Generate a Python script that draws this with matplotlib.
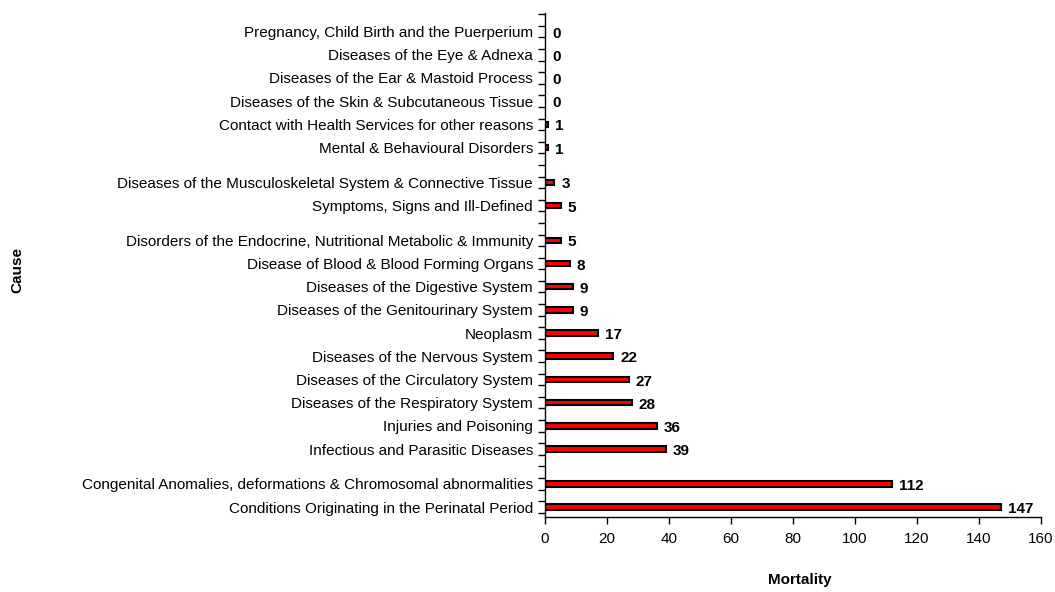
import matplotlib
matplotlib.use("Agg")
import matplotlib.pyplot as plt
import numpy as np
from matplotlib.ticker import FixedLocator, MultipleLocator

plt.rcParams['font.family'] = ['Liberation Sans', 'DejaVu Sans']

# Categories, bottom to top
categories = [
    "Conditions Originating in the Perinatal Period",
    "Congenital Anomalies, deformations & Chromosomal abnormalities",
    "Infectious and Parasitic Diseases",
    "Injuries and Poisoning",
    "Diseases of the Respiratory System",
    "Diseases of the Circulatory System",
    "Diseases of the Nervous System",
    "Neoplasm",
    "Diseases of the Genitourinary System",
    "Diseases of the Digestive System",
    "Disease of Blood & Blood Forming Organs",
    "Disorders of the Endocrine, Nutritional Metabolic & Immunity",
    "Symptoms, Signs and Ill-Defined",
    "Diseases of the Musculoskeletal System & Connective Tissue",
    "Mental & Behavioural Disorders",
    "Contact with Health Services for other reasons",
    "Diseases of the Skin & Subcutaneous Tissue",
    "Diseases of the Ear & Mastoid Process",
    "Diseases of the Eye & Adnexa",
    "Pregnancy, Child Birth and the Puerperium",
]
mortality = [147, 112, 39, 36, 28, 27, 22, 17, 9, 9, 8, 5, 5, 3, 1, 1, 0, 0, 0, 0]

# categories preceded (from below) by an extra blank slot in the layout
extra_gap_before = {
    "Infectious and Parasitic Diseases",
    "Symptoms, Signs and Ill-Defined",
    "Mental & Behavioural Disorders",
}

pos = []
cur = 0
for i, c in enumerate(categories):
    if i > 0:
        cur += 2
        if c in extra_gap_before:
            cur += 1
    pos.append(cur)
pos = np.array(pos, dtype=float)

fig = plt.figure(figsize=(10.55, 5.92), dpi=100)
ax = fig.add_axes([545/1055, 1 - 517/592, (1041-545)/1055, (517-13)/592])

ax.barh(pos, mortality, height=0.48, color='#FF0000', edgecolor='black', linewidth=1.5)

for p, v in zip(pos, mortality):
    ax.annotate(str(v), xy=(v, p), xytext=(5, -1.5), textcoords='offset points',
                ha='left', va='center', fontsize=11, fontweight='bold')

ax.set_xlim(0, 160)
ax.set_ylim(-0.86, pos[-1] + 1.6)
ax.xaxis.set_major_locator(MultipleLocator(20))
ax.tick_params(axis='x', direction='out', length=5, width=1, labelsize=11, pad=6)

ax.set_yticks(pos)
ax.set_yticklabels(categories, fontsize=11)
ax.tick_params(axis='y', which='major', length=0, pad=8.6)
minor = np.arange(-0.5, pos[-1] + 1.6, 1.0)
ax.yaxis.set_minor_locator(FixedLocator(minor))
ax.tick_params(axis='y', which='minor', direction='out', length=5, width=1)

for s in ['top', 'right']:
    ax.spines[s].set_visible(False)
for s in ['left', 'bottom']:
    ax.spines[s].set_linewidth(1)

fig.text(800/1055, 1 - 580/592, "Mortality", ha='center', va='center',
         fontsize=11, fontweight='bold')
fig.text(17/1055, 1 - 270/592, "Cause", ha='center', va='center', rotation=90,
         fontsize=11, fontweight='bold')

fig.savefig("out.png", dpi=100)
